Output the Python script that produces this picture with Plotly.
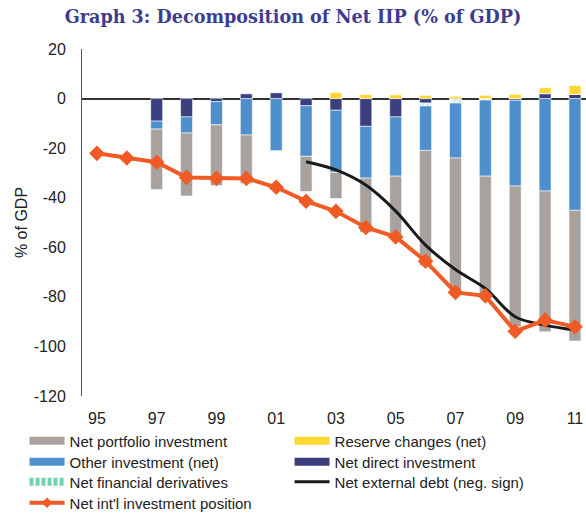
import plotly.graph_objects as go

years = list(range(1995, 2012))
tick_years = [1995, 1997, 1999, 2001, 2003, 2005, 2007, 2009, 2011]
tick_labels = ['95', '97', '99', '01', '03', '05', '07', '09', '11']
y_ticks = [20, 0, -20, -40, -60, -80, -100, -120]
y_tick_labels = ['20', '0', '-20', '-40', '-60', '-80', '-100', '-120']

# % of GDP
net_direct = [None, None, -9.1, -7.4, -1.2, 1.9, 2.4, -2.9, -4.7, -11.2, -7.4, -1.8, -0.3, 0.0, -0.7, 2.0, 1.7]
net_derivatives = [None, None, None, None, None, None, None, None, None, None, None, -1.2, -1.5, -0.6, 0.0, 0.0, 0.0]
other_inv = [None, None, -3.2, -6.5, -9.4, -14.7, -21.0, -20.4, -25.1, -20.9, -23.9, -17.9, -22.2, -30.7, -34.6, -37.3, -45.1]
net_portfolio = [None, None, -24.4, -25.4, -24.5, -19.6, 0.0, -14.2, -10.5, -21.9, -24.7, -46.4, -54.0, -48.1, -56.7, -56.8, -52.7]
reserve_changes = [None, None, None, None, None, None, None, None, 2.4, 1.6, 1.5, 1.3, 0.9, 1.3, 1.7, 2.4, 3.6]
net_ext_debt = [None, None, None, None, None, None, None, -25.5, -28.8, -34.9, -45.4, -59.1, -69.0, -76.6, -88.0, -91.4, -93.4]
net_iip = [-22.1, -24.0, -25.7, -31.8, -32.2, -32.2, -35.8, -41.4, -45.5, -52.0, -55.8, -65.6, -78.2, -79.6, -93.9, -89.4, -92.1]

C_GREY = '#A8A29F'
C_BLUE = '#4E8FCC'
C_NAVY = '#3B3F7F'
C_YELLOW = '#FFD733'
C_GREEN = '#6FD1B3'
C_BLACK = '#1A1A1A'
C_ORANGE = '#F05A24'

FONT = 'Liberation Sans, Arial, sans-serif'
fig = go.Figure()

edge = dict(color='rgba(255,255,255,0.7)', width=0.8)
bw = 0.4
fig.add_trace(go.Bar(x=years, y=net_direct, marker=dict(color=C_NAVY, line=edge), width=bw, showlegend=False))
fig.add_trace(go.Bar(x=years, y=net_derivatives, marker=dict(color='white', line=edge,
                     pattern=dict(shape='/', fgcolor=C_GREEN, bgcolor='white', size=4, solidity=0.5)),
                     width=bw, showlegend=False))
fig.add_trace(go.Bar(x=years, y=other_inv, marker=dict(color=C_BLUE, line=edge), width=bw, showlegend=False))
fig.add_trace(go.Bar(x=years, y=net_portfolio, marker=dict(color=C_GREY, line=edge), width=bw, showlegend=False))
fig.add_trace(go.Bar(x=years, y=reserve_changes, marker=dict(color=C_YELLOW, line=edge), width=bw, showlegend=False))

fig.add_trace(go.Scatter(x=years, y=net_ext_debt, mode='lines', line=dict(color=C_BLACK, width=3, shape='spline'),
                         showlegend=False))
fig.add_trace(go.Scatter(x=years, y=net_iip, mode='lines+markers', line=dict(color=C_ORANGE, width=4),
                         marker=dict(symbol='diamond', size=12, color=C_ORANGE), showlegend=False))

# legend entries (one legend per row)
def leg(name, rank, legend, color, width=8, dash='solid', mode='lines', marker=None):
    kw = dict(x=[None], y=[None], mode=mode, name=name, legendrank=rank, legend=legend,
              line=dict(color=color, width=width, dash=dash))
    if marker:
        kw['marker'] = marker
    fig.add_trace(go.Scatter(**kw))

leg('Net portfolio investment', 1, 'legend', C_GREY)
leg('Reserve changes (net)', 2, 'legend', C_YELLOW)
leg('Other investment (net)', 3, 'legend2', C_BLUE)
leg('Net direct investment', 4, 'legend2', C_NAVY)
leg('Net financial derivatives', 5, 'legend3', C_GREEN, dash='4px,2px')
leg('Net external debt (neg. sign)', 6, 'legend3', C_BLACK, width=3)
leg("Net int'l investment position", 7, 'legend4', C_ORANGE, width=4, mode='lines+markers',
    marker=dict(symbol='diamond', size=8, color=C_ORANGE))

row_centers = [-0.1297, -0.1902, -0.2478, -0.3084]

def legend_style(yc):
    return dict(orientation='h', x=-0.114, xanchor='left', y=yc, yanchor='middle',
                entrywidth=215, entrywidthmode='pixels', itemwidth=35,
                font=dict(family=FONT, size=15, color='#222222'),
                traceorder='normal', bgcolor='rgba(0,0,0,0)')

fig.update_layout(
    width=586, height=513,
    margin=dict(l=82, r=0, t=49, b=117, autoexpand=False),
    paper_bgcolor='white', plot_bgcolor='white',
    barmode='relative',
    font=dict(family=FONT, size=16, color='#222222'),
    title=dict(text='Graph 3: Decomposition of Net IIP (% of GDP)',
               font=dict(family='DejaVu Serif, serif', size=17.6, color='#3D3D8F', weight='bold'),
               x=0.5, xref='container', xanchor='center', y=0.967, yref='container', yanchor='middle'),
    xaxis=dict(range=[1994.5, 2011.37], tickvals=tick_years, ticktext=tick_labels,
               showgrid=False, zeroline=False, showline=False,
               ticks='outside', ticklen=8, tickcolor='rgba(0,0,0,0)',
               tickfont=dict(size=16)),
    yaxis=dict(range=[-120, 20], tickvals=y_ticks, ticktext=y_tick_labels, showgrid=False,
               zeroline=True, zerolinecolor='#333333', zerolinewidth=1.5,
               showline=True, linecolor='#555555', linewidth=1,
               ticks='outside', ticklen=12, tickcolor='rgba(0,0,0,0)',
               tickfont=dict(size=16),
               title=dict(text='% of GDP', font=dict(size=16), standoff=2)),
    legend=legend_style(row_centers[0]),
    legend2=legend_style(row_centers[1]),
    legend3=legend_style(row_centers[2]),
    legend4=legend_style(row_centers[3]),
)

fig.write_html('out.html', config={'displayModeBar': False},
               post_script="document.body.style.margin='0';document.body.style.padding='0';")
